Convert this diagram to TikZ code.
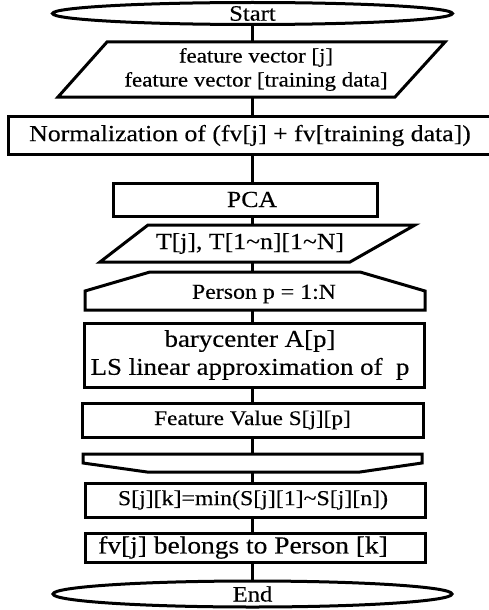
\documentclass[tikz,border=0pt]{standalone}
\usepackage{fontspec}
\setmainfont{Liberation Serif}[FakeStretch=1.12, FakeBold=0.3]
\usetikzlibrary{shapes.geometric}
\newcommand{\fsz}[2]{\fontsize{#1}{#2}\selectfont}
\tikzset{
  shp/.style={draw=black, line width=3pt, line join=miter},
  term/.style={shp, ellipse, inner sep=0pt},
  procbox/.style={shp, rectangle, inner sep=0pt},
  txt/.style={inner sep=0pt, align=center},
  link/.style={draw=black, line width=3pt}
}
\begin{document}
\begin{tikzpicture}[x=1pt,y=-1pt]
\useasboundingbox (0,0) rectangle (489,610);
\coordinate (axis) at (252,0);

% Start
\node[term, minimum width=400pt, minimum height=22pt, font=\fsz{22}{22}] (start) at (252.5,13.5) {Start};

% input 1 parallelogram
\draw[shp] (107,42) -- (445,42) -- (395,97) -- (58,97) -- cycle;
\coordinate (in1t) at (252,42);
\coordinate (in1b) at (252,97);
\node[txt, font=\fsz{20.5}{24}] (in1) at (256,69.5) {feature vector [j]\\ feature vector [training data]};

% Normalization
\node[procbox, minimum width=482pt, minimum height=38pt] (norm) at (249,135.5) {};
\node[txt, font=\fsz{23}{23}] (normt) at (250,135.5) {Normalization of (fv[j] + fv[training data])};

% PCA
\node[procbox, minimum width=264pt, minimum height=33pt] (pca) at (245,199.5) {};
\node[txt, font=\fsz{23}{23}] (pcat) at (252,199.5) {PCA};

% T parallelogram
\draw[shp] (148,225) -- (415,225) -- (350,262) -- (100,262) -- cycle;
\coordinate (tt) at (252,225);
\coordinate (tb) at (252,262);
\node[txt, font=\fsz{23}{23}] (tn) at (250,243.5) {T[j], T[1\textasciitilde n][1\textasciitilde N]};

% loop start
\draw[shp] (150,272) -- (360,272) -- (425,291) -- (425,310) -- (85,310) -- (85,291) -- cycle;
\coordinate (l1t) at (252,272);
\coordinate (l1b) at (252,310);
\node[txt, font=\fsz{21.3}{21.3}] (l1) at (264,294) {Person p = 1:N};

% barycenter
\node[procbox, minimum width=340pt, minimum height=64pt] (bary) at (254,355) {};
\node[txt, font=\fsz{24}{28}] (baryt) at (250,355) {barycenter A[p]\\ LS linear approximation of\ \ p};

% Feature value
\node[procbox, minimum width=341pt, minimum height=34pt] (fval) at (252.5,420) {};
\node[txt, font=\fsz{20.8}{20.8}] (fvalt) at (252.5,420) {Feature Value S[j][p]};

% loop end
\draw[shp] (83,454) -- (422,454) -- (422,463) -- (360,472) -- (147,472) -- (83,463) -- cycle;
\coordinate (l2t) at (252,454);
\coordinate (l2b) at (252,472);

% min
\node[procbox, minimum width=340pt, minimum height=34pt] (minb) at (255,500) {};
\node[txt, font=\fsz{21.3}{21.3}] (mint) at (253,500) {S[j][k]=min(S[j][1]\textasciitilde S[j][n])};

% belongs
\node[procbox, minimum width=340pt, minimum height=29pt] (bel) at (255,547.5) {};
\node[txt, font=\fsz{24.5}{24.5}] (belt) at (243,547.5) {fv[j] belongs to Person [k]};

% End
\node[term, minimum width=399pt, minimum height=26pt, font=\fsz{22}{22}] (end) at (252.5,594) {End};

% connectors
\draw[link] (start.south -| axis) -- (in1t);
\draw[link] (in1b) -- (norm.north -| axis);
\draw[link] (norm.south -| axis) -- (pca.north -| axis);
\draw[link] (pca.south -| axis) -- (tt);
\draw[link] (tb) -- (l1t);
\draw[link] (l1b) -- (bary.north -| axis);
\draw[link] (bary.south -| axis) -- (fval.north -| axis);
\draw[link] (fval.south -| axis) -- (l2t);
\draw[link] (l2b) -- (minb.north -| axis);
\draw[link] (minb.south -| axis) -- (bel.north -| axis);
\draw[link] (bel.south -| axis) -- (end.north -| axis);
\end{tikzpicture}
\end{document}
